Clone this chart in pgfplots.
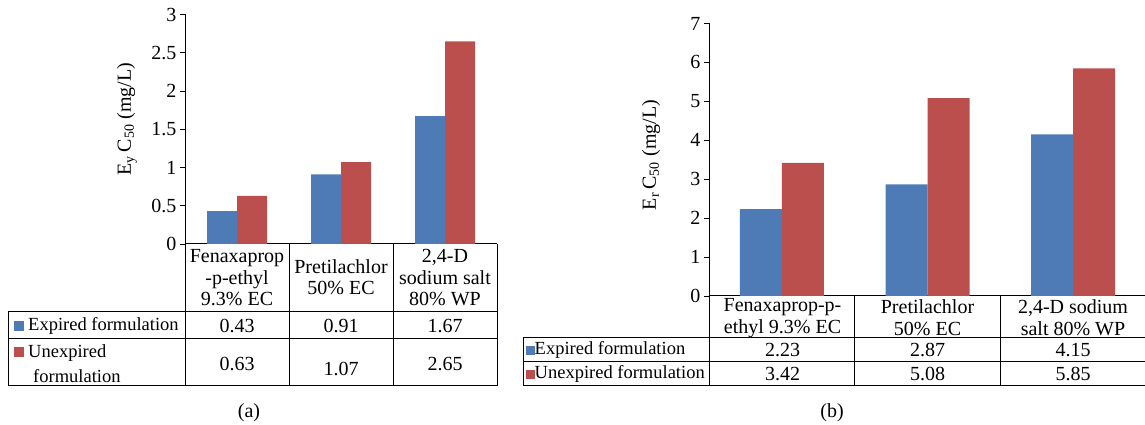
\documentclass[border=0pt]{standalone}
\usepackage{pgfplots}
\pgfplotsset{compat=1.18}
\usepackage{fontspec}
\setmainfont{Liberation Serif}
\definecolor{bblue}{HTML}{4E7BB6}
\definecolor{bred}{HTML}{BB4F4D}
\newcommand{\fs}{\fontsize{20}{21.5}\selectfont}
\newcommand{\fsr}{\fontsize{18.5}{22}\selectfont}
\newcommand{\sq}[2]{{\color{#1}\rule{#2}{#2}}}
\pgfplotsset{
  mybar/.style={
    scale only axis, anchor=south west,
    ybar=0pt, xmin=-0.5, xmax=2.5, ymin=0,
    axis x line=bottom, axis y line=left,
    axis line style={-, line width=1pt, black},
    every outer x axis line/.append style={-},
    every outer y axis line/.append style={-},
    xtick=\empty, tick align=outside, major tick length=5pt,
    ytick style={black, line width=0.8pt},
    tick label style={font=\fs},
    /pgf/number format/assume math mode=true,
    clip=false,
  }
}
\begin{document}
\begin{tikzpicture}[x=1pt,y=1pt]
\path[use as bounding box] (0,0) rectangle (1145,425);

% ---------------- (a) ----------------
\begin{axis}[mybar, at={(185pt,181pt)}, width=312pt, height=229.5pt,
  ymax=3, ytick={0,0.5,...,3}, bar width=30pt]
\addplot[fill=bblue, draw=none] coordinates {(0,0.43) (1,0.91) (2,1.67)};
\addplot[fill=bred, draw=none] coordinates {(0,0.63) (1,1.07) (2,2.65)};
\end{axis}
\node[rotate=90, font=\fs] at (127,306) {E\textsubscript{y}\,C\textsubscript{50}\ (mg/L)};

\begin{scope}[line width=1pt]
\draw (8,113) -- (497,113);
\draw (8,86) -- (497,86);
\draw (8,39) -- (497,39);
\draw (8,113) -- (8,39);
\draw (185,181) -- (185,39);
\draw (289,181) -- (289,39);
\draw (393,181) -- (393,39);
\draw (497,181) -- (497,39);
\end{scope}
\node[align=center, font=\fs] at (237,147) {Fenaxaprop\\-p-ethyl\\9.3\% EC};
\node[align=center, font=\fs] at (341,148) {Pretilachlor\\50\% EC};
\node[align=center, font=\fs] at (445,147) {2,4-D\\sodium salt\\80\% WP};
\node[anchor=west, inner sep=0, font=\fsr] at (14,99) {\sq{bblue}{10pt}\hspace{4pt}Expired formulation};
\node[anchor=west, inner sep=0, font=\fsr] at (14,72) {\sq{bred}{10pt}\hspace{4pt}Unexpired};
\node[anchor=west, inner sep=0, font=\fsr] at (33,49) {formulation};
\node[font=\fs] at (237,99) {0.43};
\node[font=\fs] at (341,99) {0.91};
\node[font=\fs] at (445,99) {1.67};
\node[font=\fs] at (237,61) {0.63};
\node[font=\fs] at (341,56) {1.07};
\node[font=\fs] at (445,61) {2.65};
\node[font=\fs] at (249,12) {(a)};

% ---------------- (b) ----------------
\begin{axis}[mybar, at={(709pt,129pt)}, width=437pt, height=272.5pt,
  ymax=7, ytick={0,1,...,7}, bar width=42pt]
\addplot[fill=bblue, draw=none] coordinates {(0,2.23) (1,2.87) (2,4.15)};
\addplot[fill=bred, draw=none] coordinates {(0,3.42) (1,5.08) (2,5.85)};
\end{axis}
\node[rotate=90, font=\fs] at (651,270) {E\textsubscript{r}\,C\textsubscript{50}\ (mg/L)};

\begin{scope}[line width=1pt]
\draw (523,87) -- (1146,87);
\draw (523,63) -- (1146,63);
\draw (523,39) -- (1146,39);
\draw (523,87) -- (523,39);
\draw (709,129) -- (709,39);
\draw (854.7,129) -- (854.7,39);
\draw (1000.3,129) -- (1000.3,39);
\end{scope}
\node[align=center, font=\fontsize{20}{22}\selectfont] at (782.5,107) {Fenaxaprop-p-\\ethyl 9.3\% EC};
\node[align=center, font=\fontsize{20}{22}\selectfont] at (927.5,107) {Pretilachlor\\50\% EC};
\node[align=center, font=\fontsize{20}{22}\selectfont] at (1073,107) {2,4-D sodium\\salt 80\% WP};
\node[anchor=west, inner sep=0, font=\fsr] at (526,75) {\sq{bblue}{8.5pt}Expired formulation};
\node[anchor=west, inner sep=0, font=\fsr] at (526,51) {\sq{bred}{8.5pt}Unexpired formulation};
\node[font=\fs] at (782.5,75) {2.23};
\node[font=\fs] at (927.5,75) {2.87};
\node[font=\fs] at (1073,75) {4.15};
\node[font=\fs] at (782.5,51) {3.42};
\node[font=\fs] at (927.5,51) {5.08};
\node[font=\fs] at (1073,51) {5.85};
\node[font=\fs] at (832,12) {(b)};
\end{tikzpicture}
\end{document}
